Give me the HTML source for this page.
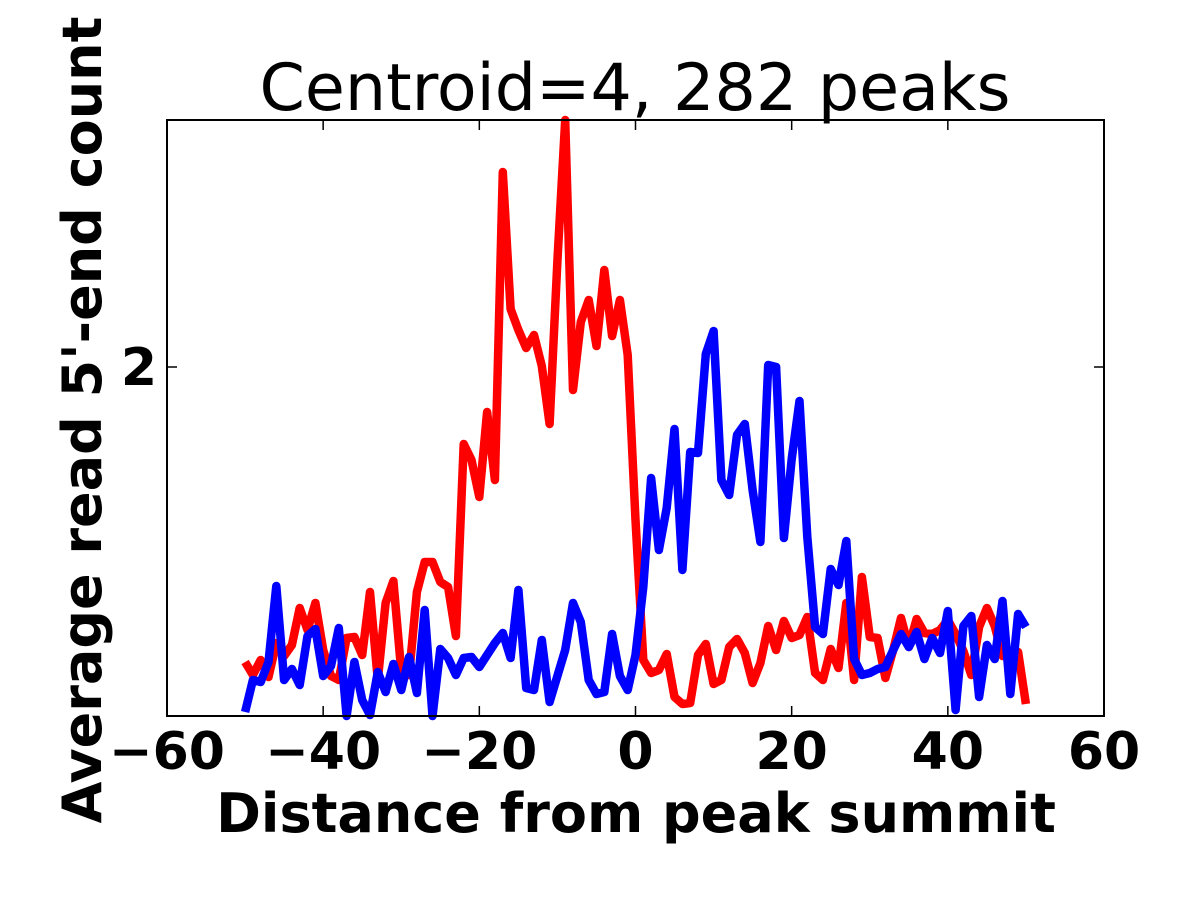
<!DOCTYPE html>
<html><head><meta charset="utf-8"><style>
html,body{margin:0;padding:0;background:#fff;}
svg{display:block;font-family:"DejaVu Sans","Liberation Sans",sans-serif;}
</style></head><body>
<svg id="chart" width="1200" height="900">
<text x="635" y="110" text-anchor="middle" font-size="65">Centroid=4, 282 peaks</text>
<g id="lines"></g>
<rect x="167" y="120" width="937" height="596" fill="none" stroke="#000" stroke-width="2"/>
<g id="ticks"></g>
<text x="636" y="832" text-anchor="middle" font-size="54" font-weight="bold">Distance from peak summit</text>
<text transform="translate(101,420) rotate(-90)" text-anchor="middle" font-size="54" font-weight="bold">Average read 5'-end count</text>
</svg>
<script>
const xs = [];
for (let i = -50; i <= 50; i++) xs.push(i);
const redSeries = [1.410,1.384,1.414,1.380,1.448,1.422,1.444,1.518,1.474,1.528,1.434,1.382,1.374,1.458,1.460,1.424,1.550,1.374,1.528,1.572,1.390,1.384,1.550,1.610,1.610,1.570,1.560,1.462,1.846,1.814,1.740,1.910,1.774,2.390,2.116,2.074,2.038,2.064,2.002,1.886,2.212,2.494,1.954,2.090,2.134,2.042,2.194,2.062,2.134,2.024,1.694,1.414,1.388,1.394,1.426,1.340,1.326,1.328,1.424,1.446,1.366,1.374,1.440,1.456,1.428,1.368,1.408,1.482,1.434,1.492,1.458,1.464,1.500,1.388,1.374,1.436,1.398,1.528,1.374,1.580,1.460,1.458,1.378,1.434,1.498,1.440,1.496,1.468,1.466,1.474,1.494,1.466,1.432,1.384,1.480,1.518,1.482,1.422,1.426,1.430,1.326];
const blueSeries = [1.310,1.374,1.370,1.410,1.562,1.374,1.396,1.364,1.462,1.476,1.382,1.402,1.478,1.302,1.410,1.334,1.304,1.390,1.350,1.406,1.354,1.420,1.348,1.514,1.302,1.436,1.418,1.384,1.418,1.420,1.400,1.424,1.448,1.468,1.418,1.554,1.358,1.354,1.454,1.330,1.382,1.434,1.528,1.490,1.374,1.346,1.350,1.466,1.382,1.354,1.424,1.560,1.778,1.634,1.718,1.876,1.594,1.830,1.828,2.026,2.072,1.774,1.744,1.864,1.886,1.754,1.650,2.004,2.000,1.658,1.816,1.932,1.660,1.480,1.466,1.596,1.564,1.652,1.416,1.384,1.388,1.396,1.400,1.434,1.466,1.440,1.470,1.416,1.458,1.428,1.512,1.314,1.482,1.502,1.340,1.444,1.416,1.532,1.346,1.506,1.480];
const xTicks = [-60,-40,-20,0,20,40,60];
const xTickLabels = ["\u221260","\u221240","\u221220","0","20","40","60"];
const yTicks = [2];
const yTickLabels = ["2"];
const xMin=-60,xMax=60,yMin=1.302,yMax=2.494;
const L=167,R=1104,T=120,B=716;
const sx=v=>L+(v-xMin)/(xMax-xMin)*(R-L);
const sy=v=>B-(v-yMin)/(yMax-yMin)*(B-T);
const NS="http://www.w3.org/2000/svg";
const lines=document.getElementById('lines');
function drawLine(vals,color,name){
  const p=document.createElementNS(NS,'polyline');
  p.setAttribute('points',vals.map((v,i)=>sx(xs[i]).toFixed(1)+','+sy(v).toFixed(1)).join(' '));
  p.setAttribute('fill','none');p.setAttribute('stroke',color);
  p.setAttribute('stroke-width','8.5');p.setAttribute('stroke-linejoin','round');
  
  
  lines.appendChild(p);
}
drawLine(redSeries,'#ff0000','red-series-line');
drawLine(blueSeries,'#0000ff','blue-series-line');
const tg=document.getElementById('ticks');
xTicks.forEach((t,i)=>{
  const x=sx(t);
  [[B,B-10],[T,T+10]].forEach(([a,b])=>{
    const l=document.createElementNS(NS,'line');
    l.setAttribute('x1',x);l.setAttribute('x2',x);l.setAttribute('y1',a);l.setAttribute('y2',b);
    l.setAttribute('stroke','#000');l.setAttribute('stroke-width','1.5');
    
    
    tg.appendChild(l);
  });
  const tx=document.createElementNS(NS,'text');
  tx.setAttribute('x',x);tx.setAttribute('y',769);tx.setAttribute('text-anchor','middle');
  tx.setAttribute('font-size','52');tx.setAttribute('font-weight','bold');
  tx.textContent=xTickLabels[i];
  
  
  tg.appendChild(tx);
});
yTicks.forEach((t,i)=>{
  const y=sy(t);
  [[L,L+10],[R,R-10]].forEach(([a,b])=>{
    const l=document.createElementNS(NS,'line');
    l.setAttribute('x1',a);l.setAttribute('x2',b);l.setAttribute('y1',y);l.setAttribute('y2',y);
    l.setAttribute('stroke','#000');l.setAttribute('stroke-width','1.5');
    
    
    tg.appendChild(l);
  });
  const tx=document.createElementNS(NS,'text');
  tx.setAttribute('x',157);tx.setAttribute('y',y+18);tx.setAttribute('text-anchor','end');
  tx.setAttribute('font-size','52');tx.setAttribute('font-weight','bold');
  tx.textContent=yTickLabels[i];
  
  
  tg.appendChild(tx);
});
</script>
</body></html>
